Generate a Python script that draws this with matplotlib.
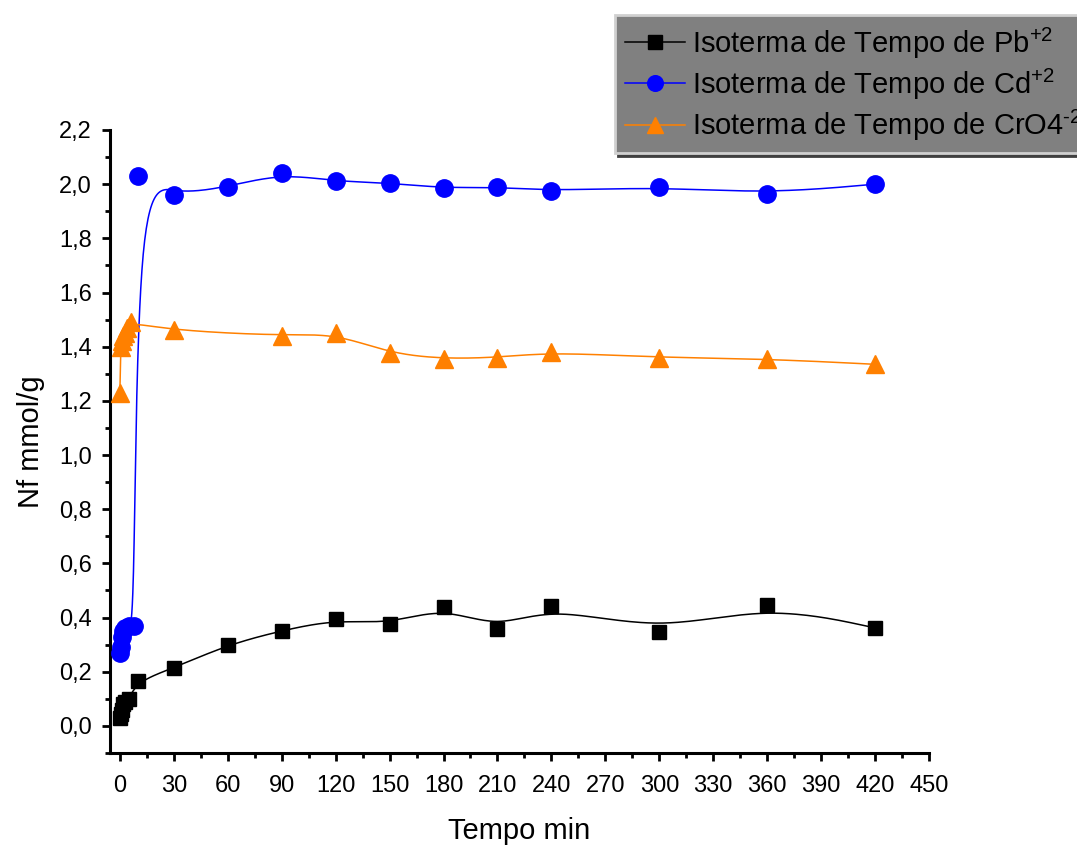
import numpy as np
import matplotlib
matplotlib.use("Agg")
import matplotlib.pyplot as plt
from matplotlib.ticker import MultipleLocator

plt.rcParams['font.family'] = ['Liberation Sans', 'DejaVu Sans']
plt.rcParams['mathtext.fontset'] = 'custom'
plt.rcParams['mathtext.rm'] = 'Liberation Sans'
plt.rcParams['mathtext.it'] = 'Liberation Sans'

# dados
t_pb = [0, 0.5, 1, 2, 3, 5, 10, 30, 60, 90, 120, 150, 180, 210, 240, 300, 360, 420]
nf_pb = [0.03, 0.045, 0.06, 0.08, 0.09, 0.10, 0.166, 0.214, 0.30, 0.352, 0.393, 0.375,
         0.44, 0.358, 0.443, 0.347, 0.447, 0.362]

t_cd = [0, 0.5, 1, 2, 3, 5, 8, 10, 30, 60, 90, 120, 150, 180, 210, 240, 300, 360, 420]
nf_cd = [0.27, 0.29, 0.33, 0.35, 0.36, 0.37, 0.37, 2.03, 1.96, 1.99, 2.04, 2.01, 2.005,
         1.985, 1.99, 1.975, 1.99, 1.965, 2.0]

t_cr = [0, 0.5, 1, 2, 3, 4, 6, 30, 90, 120, 150, 180, 210, 240, 300, 360, 420]
nf_cr = [1.23, 1.40, 1.42, 1.44, 1.45, 1.47, 1.49, 1.46, 1.44, 1.45, 1.375, 1.355,
         1.36, 1.38, 1.36, 1.355, 1.335]

nomes = [r'Isoterma de Tempo de Pb$^{\text{+2}}$',
         r'Isoterma de Tempo de Cd$^{\text{+2}}$',
         r'Isoterma de Tempo de CrO4$^{\text{-2}}$']

x_ticks = list(range(0, 451, 30))
y_ticks = [0.0, 0.2, 0.4, 0.6, 0.8, 1.0, 1.2, 1.4, 1.6, 1.8, 2.0, 2.2]
y_labels = ['0,0', '0,2', '0,4', '0,6', '0,8', '1,0', '1,2', '1,4', '1,6', '1,8', '2,0', '2,2']


def bspline(x, y, n=30):
    # B-spline cubica uniforme, pontos como pontos de controle (como no Origin)
    P = np.column_stack([x, y]).astype(float)
    P = np.vstack([P[0], P[0], P, P[-1], P[-1]])
    t = np.linspace(0, 1, n)[:, None]
    b0 = (1 - t)**3 / 6
    b1 = (3*t**3 - 6*t**2 + 4) / 6
    b2 = (-3*t**3 + 3*t**2 + 3*t + 1) / 6
    b3 = t**3 / 6
    segs = []
    for i in range(len(P) - 3):
        segs.append(b0*P[i] + b1*P[i+1] + b2*P[i+2] + b3*P[i+3])
    c = np.vstack(segs)
    return c[:, 0], c[:, 1]


fig = plt.figure(figsize=(10.77, 8.48), dpi=100)
ax = fig.add_axes([0.1021, 0.1120, 0.7605, 0.7347])

series = [(t_pb, nf_pb, 'black', 's', 10.5),
          (t_cd, nf_cd, '#0000ff', 'o', 12.5),
          (t_cr, nf_cr, '#ff8000', '^', 13)]

handles = []
for (tt, nf, cor, mk, ms), nome in zip(series, nomes):
    xs, ys = bspline(tt, nf)
    ax.plot(xs, ys, color=cor, lw=1.1, zorder=2)
    ax.plot(tt, nf, mk, color=cor, ms=ms, mec=cor, zorder=3, clip_on=False)
    h, = ax.plot([], [], '-', marker=mk, color=cor, lw=1.1, ms=ms*0.9, label=nome)
    handles.append(h)

ax.set_xlim(-5.5, 450)
ax.set_ylim(-0.1, 2.2)
ax.set_xticks(x_ticks)
ax.set_yticks(y_ticks)
ax.set_yticklabels(y_labels)
ax.xaxis.set_minor_locator(MultipleLocator(15))
ax.yaxis.set_minor_locator(MultipleLocator(0.1))
ax.spines['top'].set_visible(False)
ax.spines['right'].set_visible(False)
ax.spines['left'].set_linewidth(2.2)
ax.spines['bottom'].set_linewidth(2.2)
ax.tick_params(which='major', direction='out', length=6, width=2, labelsize=17)
ax.tick_params(axis='x', which='major', pad=10)
ax.tick_params(axis='y', which='major', pad=7)
ax.tick_params(which='minor', direction='out', length=3.5, width=2)

ax.set_xlabel('Tempo min', fontsize=21, labelpad=14)
ax.set_ylabel('Nf mmol/g', fontsize=21, labelpad=10)

leg = fig.legend(handles=handles, loc='upper left', bbox_to_anchor=(0.571, 0.982),
                 fontsize=21, frameon=True, fancybox=False, shadow={'color': '#404040', 'alpha': 1},
                 handlelength=2.05, handletextpad=0.25, labelspacing=0.2, borderpad=0.35,
                 borderaxespad=0)
leg.get_frame().set_facecolor('#808080')
leg.get_frame().set_edgecolor('#d0d0d0')
leg.get_frame().set_linewidth(2)
leg.get_frame().set_alpha(1)

plt.savefig('out.png', dpi=100)
